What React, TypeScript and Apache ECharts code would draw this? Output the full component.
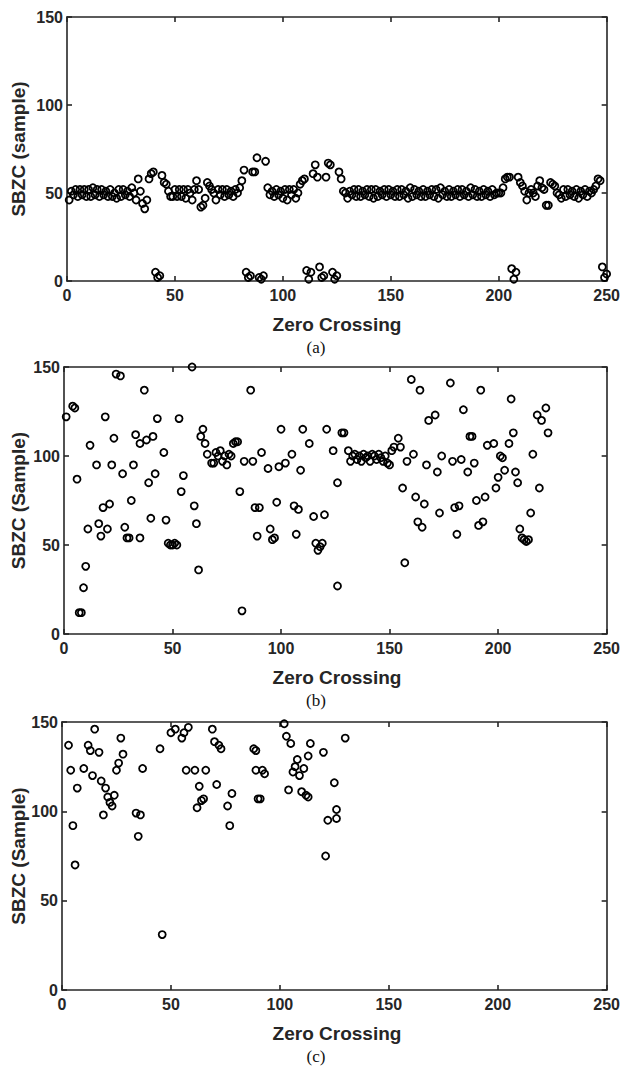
import React, { useEffect, useRef } from "react";
import * as echarts from "echarts";

// ---------------- DATA ----------------
const xTickValues = [0, 50, 100, 150, 200, 250];
const yTickValues = [0, 50, 100, 150];
const yAxisTitles = ["SBZC (sample)", "SBZC (Sample)", "SBZC (Sample)"];
const xAxisTitle = "Zero Crossing";
const panelCaptions = ["(a)", "(b)", "(c)"];

// panel (a): one value per zero crossing, x = 1..250
const panelAValues = [
  46, 51, 49, 52, 48, 52, 49, 52, 48, 52,
  48, 53, 49, 52, 48, 52, 49, 51, 48, 52,
  48, 50, 47, 52, 48, 52, 49, 51, 48, 53,
  50, 46, 58, 51, 44, 41, 46, 58, 61, 62,
  5, 2, 3, 60, 56, 55, 51, 48, 48, 52,
  48, 52, 48, 52, 47, 52, 50, 46, 52, 57,
  52, 42, 43, 47, 56, 54, 52, 50, 46, 52,
  49, 52, 48, 52, 49, 51, 48, 52, 50, 53,
  57, 63, 5, 2, 3, 62, 62, 70, 2, 1,
  3, 68, 53, 49, 51, 48, 52, 49, 51, 47,
  52, 46, 52, 49, 52, 47, 50, 55, 57, 58,
  6, 1, 5, 61, 66, 59, 8, 2, 3, 59,
  67, 66, 5, 1, 3, 62, 58, 51, 50, 47,
  51, 49, 52, 48, 52, 48, 51, 49, 52, 48,
  52, 47, 52, 48, 51, 49, 52, 48, 52, 49,
  51, 48, 52, 48, 52, 49, 51, 47, 53, 48,
  52, 49, 51, 48, 52, 48, 51, 49, 52, 48,
  52, 47, 53, 49, 51, 48, 52, 48, 51, 49,
  52, 48, 52, 49, 51, 48, 53, 49, 52, 48,
  51, 48, 52, 49, 51, 48, 52, 49, 50, 50,
  50, 53, 58, 59, 59, 7, 1, 5, 59, 56,
  54, 51, 46, 50, 52, 50, 48, 54, 57, 53,
  52, 43, 43, 56, 55, 54, 50, 49, 47, 52,
  48, 52, 49, 51, 48, 52, 47, 51, 49, 52,
  48, 51, 50, 52, 54, 58, 57, 8, 2, 4,
];

// panel (b): [zero crossing, SBZC]
const panelBPoints = [
  [1, 122], [4, 128], [5, 127], [6, 87], [7, 12], [8, 12], [9, 26], [10, 38],
  [11, 59], [12, 106], [15, 95], [16, 62], [17, 55], [18, 71], [19, 122], [20, 59],
  [21, 73], [22, 95], [23, 110], [24, 146], [26, 145], [27, 90], [28, 60], [29, 54],
  [30, 54], [31, 75], [32, 95], [33, 112], [35, 107], [35, 54], [37, 137], [38, 109],
  [39, 85], [40, 65], [41, 111], [42, 90], [43, 121], [46, 102], [47, 64], [48, 51],
  [49, 50], [50, 50], [51, 51], [52, 50], [53, 121], [54, 80], [55, 89], [59, 150],
  [60, 72], [61, 62], [62, 36], [63, 111], [64, 115], [65, 107], [66, 101], [68, 96],
  [69, 96], [70, 102], [71, 100], [72, 103], [73, 97], [74, 100], [75, 95], [76, 101],
  [77, 100], [78, 107], [79, 108], [80, 108], [81, 80], [82, 13], [83, 97], [86, 137],
  [87, 97], [88, 71], [89, 55], [90, 71], [91, 102], [94, 93], [95, 59], [96, 53],
  [97, 54], [98, 74], [99, 94], [100, 115], [102, 96], [105, 101], [106, 72], [107, 56],
  [108, 70], [109, 92], [110, 115], [113, 107], [115, 66], [116, 51], [117, 47], [118, 49],
  [119, 51], [120, 67], [121, 115], [124, 103], [126, 85], [126, 27], [128, 113], [129, 113],
  [131, 103], [132, 97], [133, 100], [134, 101], [135, 98], [136, 100], [137, 97], [138, 101],
  [139, 99], [140, 100], [141, 97], [142, 101], [143, 100], [144, 98], [145, 101], [146, 99],
  [147, 97], [148, 100], [149, 96], [150, 95], [151, 103], [152, 105], [154, 110], [155, 105],
  [156, 82], [157, 40], [158, 97], [160, 143], [161, 101], [162, 77], [163, 63], [164, 137],
  [165, 60], [166, 73], [167, 95], [168, 120], [171, 123], [172, 91], [173, 68], [174, 100],
  [178, 141], [179, 97], [180, 71], [181, 56], [182, 72], [183, 98], [184, 126], [186, 91],
  [187, 111], [188, 111], [189, 96], [190, 75], [191, 61], [192, 137], [193, 63], [194, 77],
  [195, 106], [198, 107], [199, 82], [200, 88], [201, 100], [202, 99], [203, 92], [205, 107],
  [206, 132], [207, 113], [208, 91], [209, 85], [210, 59], [211, 54], [212, 53], [213, 52],
  [214, 53], [215, 68], [216, 101], [218, 123], [219, 82], [220, 120], [222, 127], [223, 113],
];

// panel (c): [zero crossing, SBZC]
const panelCPoints = [
  [3, 137], [4, 123], [5, 92], [6, 70], [7, 113], [10, 124], [12, 137], [13, 134],
  [14, 120], [15, 146], [17, 133], [18, 117], [19, 98], [20, 113], [21, 108], [22, 105],
  [23, 103], [24, 109], [25, 123], [26, 127], [27, 141], [28, 132], [34, 99], [35, 86],
  [36, 98], [37, 124], [45, 135], [46, 31], [50, 144], [52, 146], [55, 141], [56, 144],
  [57, 123], [58, 147], [61, 123], [62, 102], [63, 114], [64, 106], [65, 107], [66, 123],
  [69, 146], [70, 139], [71, 115], [72, 137], [73, 135], [76, 103], [77, 92], [78, 110],
  [88, 135], [89, 134], [89, 123], [90, 107], [91, 107], [92, 123], [93, 121], [102, 149],
  [103, 142], [104, 112], [105, 138], [106, 122], [107, 125], [108, 129], [109, 120], [110, 111],
  [111, 124], [112, 109], [113, 108], [113, 131], [114, 138], [120, 133], [121, 75], [122, 95],
  [125, 116], [126, 101], [126, 96], [130, 141],
];

// ---------------- LAYOUT ----------------
const W = 623;
const H = 1066;
const panels = [
  { left: 67, right: 608, top: 17, bottom: 281 },
  { left: 64, right: 610, top: 367, bottom: 634 },
  { left: 62, right: 610, top: 722, bottom: 990 },
];

const AXIS_COLOR = "#262626";
const SANS = "'Liberation Sans', Arial, sans-serif";
const SERIF = "'Liberation Serif', 'Times New Roman', serif";

export default function App() {
  const ref = useRef<HTMLDivElement | null>(null);

  useEffect(() => {
    if (!ref.current) return;
    const chart = echarts.init(ref.current, undefined, { renderer: "svg" });

    const datasets = [
      panelAValues.map((v, i) => [i + 1, v]),
      panelBPoints,
      panelCPoints,
    ];

    const grids: any[] = [];
    const xAxes: any[] = [];
    const yAxes: any[] = [];
    const series: any[] = [];
    const graphics: any[] = [];

    const lineStyle = { color: AXIS_COLOR, width: 1.6 };

    panels.forEach((p, i) => {
      grids.push({
        left: p.left,
        top: p.top,
        width: p.right - p.left,
        height: p.bottom - p.top,
        containLabel: false,
      });
      const baseX = {
        type: "value",
        gridIndex: i,
        min: xTickValues[0],
        max: xTickValues[xTickValues.length - 1],
        interval: 50,
        splitLine: { show: false },
        axisLine: { show: true, onZero: false, lineStyle },
        axisTick: { show: true, inside: true, length: 5, lineStyle },
      };
      xAxes.push({
        ...baseX,
        position: "bottom",
        axisLabel: {
          show: true,
          margin: 6,
          fontSize: 16,
          fontWeight: "bold",
          fontFamily: SANS,
          color: AXIS_COLOR,
        },
      });
      xAxes.push({ ...baseX, position: "top", axisLabel: { show: false } });

      const baseY = {
        type: "value",
        gridIndex: i,
        min: yTickValues[0],
        max: yTickValues[yTickValues.length - 1],
        interval: 50,
        splitLine: { show: false },
        axisLine: { show: true, onZero: false, lineStyle },
        axisTick: { show: true, inside: true, length: 5, lineStyle },
      };
      yAxes.push({
        ...baseY,
        position: "left",
        axisLabel: {
          show: true,
          margin: 4,
          fontSize: 16,
          fontWeight: "bold",
          fontFamily: SANS,
          color: AXIS_COLOR,
        },
      });
      yAxes.push({ ...baseY, position: "right", axisLabel: { show: false } });

      series.push({
        type: "scatter",
        xAxisIndex: i * 2,
        yAxisIndex: i * 2,
        data: datasets[i],
        symbol: "circle",
        symbolSize: 7,
        clip: false,
        itemStyle: {
          color: "rgba(0,0,0,0)",
          borderColor: "#000",
          borderWidth: 1.8,
          opacity: 1,
        },
        emphasis: { disabled: true },
      });

      graphics.push({
        type: "text",
        x: 18,
        y: (p.top + p.bottom) / 2,
        rotation: Math.PI / 2,
        style: {
          text: yAxisTitles[i],
          fill: AXIS_COLOR,
          font: `bold 19px ${SANS}`,
          textAlign: "center",
          textVerticalAlign: "middle",
        },
      });
      graphics.push({
        type: "text",
        x: 337,
        y: p.bottom + 43,
        style: {
          text: xAxisTitle,
          fill: AXIS_COLOR,
          font: `bold 19px ${SANS}`,
          textAlign: "center",
          textVerticalAlign: "middle",
        },
      });
      graphics.push({
        type: "text",
        x: 316,
        y: p.bottom + 66,
        style: {
          text: panelCaptions[i],
          fill: "#111",
          font: `17px ${SERIF}`,
          textAlign: "center",
          textVerticalAlign: "middle",
        },
      });
    });

    chart.setOption({
      animation: false,
      backgroundColor: "#ffffff",
      grid: grids,
      xAxis: xAxes,
      yAxis: yAxes,
      series,
      graphic: graphics,
    });

    return () => chart.dispose();
  }, []);

  return (
    <div
      ref={ref}
      style={{ position: "absolute", left: 0, top: 0, width: W, height: H, background: "#fff" }}
    />
  );
}
